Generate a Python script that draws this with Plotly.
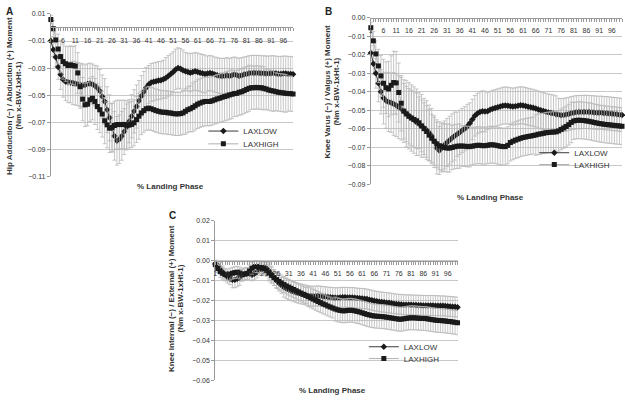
import plotly.graph_objects as go

# ---------------- data ----------------
PHASE = list(range(1, 101))          # % landing phase categories
SERIES = ["LAXLOW", "LAXHIGH"]

# Panel A: Hip adduction(-)/abduction(+) moment
A_LOW = [-0.0099, -0.0164, -0.0220, -0.0293, -0.0348, -0.0385, -0.0400, -0.0405, -0.0407, -0.0410,
         -0.0414, -0.0419, -0.0424, -0.0428, -0.0426, -0.0418, -0.0414, -0.0420, -0.0430, -0.0445,
         -0.0470, -0.0511, -0.0547, -0.0608, -0.0668, -0.0741, -0.0802, -0.0838, -0.0826, -0.0802,
         -0.0770, -0.0736, -0.0693, -0.0656, -0.0620, -0.0584, -0.0542, -0.0506, -0.0475, -0.0445,
         -0.0421, -0.0407, -0.0402, -0.0397, -0.0392, -0.0390, -0.0382, -0.0373, -0.0358, -0.0344,
         -0.0329, -0.0310, -0.0300, -0.0305, -0.0317, -0.0324, -0.0329, -0.0334, -0.0329, -0.0324,
         -0.0329, -0.0334, -0.0339, -0.0344, -0.0341, -0.0336, -0.0341, -0.0348, -0.0353, -0.0358,
         -0.0358, -0.0358, -0.0353, -0.0358, -0.0353, -0.0348, -0.0353, -0.0358, -0.0353, -0.0348,
         -0.0344, -0.0339, -0.0336, -0.0336, -0.0336, -0.0336, -0.0339, -0.0339, -0.0341, -0.0341,
         -0.0339, -0.0339, -0.0341, -0.0344, -0.0344, -0.0341, -0.0341, -0.0344, -0.0344, -0.0346]
A_LOW_SD = [0.003, 0.005, 0.007, 0.009, 0.011, 0.013, 0.014, 0.015, 0.015, 0.016,
            0.016, 0.016, 0.016, 0.016, 0.015, 0.015, 0.015, 0.015, 0.015, 0.016,
            0.016, 0.016, 0.017, 0.017, 0.017, 0.018, 0.018, 0.018, 0.018, 0.018,
            0.017, 0.017, 0.016, 0.016, 0.016, 0.016, 0.015, 0.015, 0.015, 0.015,
            0.014, 0.014, 0.014, 0.014, 0.014, 0.014, 0.014, 0.015, 0.015, 0.015,
            0.015, 0.015, 0.015, 0.015, 0.015, 0.014, 0.014, 0.014, 0.014, 0.014,
            0.014, 0.014, 0.014, 0.014, 0.013, 0.013, 0.013, 0.013, 0.013, 0.013,
            0.013, 0.013, 0.013, 0.013, 0.013, 0.013, 0.013, 0.013, 0.013, 0.013,
            0.013, 0.013, 0.013, 0.013, 0.013, 0.013, 0.013, 0.013, 0.013, 0.013,
            0.013, 0.013, 0.013, 0.013, 0.013, 0.013, 0.013, 0.013, 0.013, 0.013]
A_HIGH = [0.0059, -0.0009, -0.0092, -0.0159, -0.0215, -0.0252, -0.0268, -0.0281, -0.0276, -0.0281,
          -0.0285, -0.0336, -0.0438, -0.0530, -0.0572, -0.0567, -0.0535, -0.0523, -0.0547, -0.0584,
          -0.0608, -0.0640, -0.0690, -0.0720, -0.0745, -0.0740, -0.0725, -0.0718, -0.0718, -0.0718,
          -0.0717, -0.0722, -0.0722, -0.0717, -0.0705, -0.0681, -0.0656, -0.0632, -0.0615, -0.0601,
          -0.0596, -0.0601, -0.0608, -0.0615, -0.0620, -0.0625, -0.0627, -0.0627, -0.0632, -0.0632,
          -0.0637, -0.0639, -0.0639, -0.0637, -0.0632, -0.0620, -0.0608, -0.0601, -0.0591, -0.0579,
          -0.0567, -0.0559, -0.0552, -0.0547, -0.0547, -0.0547, -0.0542, -0.0535, -0.0528, -0.0523,
          -0.0516, -0.0511, -0.0506, -0.0499, -0.0494, -0.0489, -0.0487, -0.0479, -0.0475, -0.0467,
          -0.0458, -0.0450, -0.0445, -0.0445, -0.0443, -0.0445, -0.0445, -0.0450, -0.0455, -0.0462,
          -0.0467, -0.0470, -0.0475, -0.0479, -0.0482, -0.0484, -0.0487, -0.0489, -0.0489, -0.0492]
A_HIGH_SD = [0.003, 0.006, 0.009, 0.011, 0.012, 0.013, 0.013, 0.014, 0.014, 0.014,
             0.015, 0.015, 0.016, 0.016, 0.016, 0.016, 0.016, 0.016, 0.017, 0.017,
             0.017, 0.017, 0.017, 0.017, 0.018, 0.018, 0.018, 0.018, 0.018, 0.018,
             0.018, 0.018, 0.017, 0.017, 0.017, 0.017, 0.017, 0.016, 0.016, 0.016,
             0.016, 0.016, 0.016, 0.016, 0.016, 0.016, 0.016, 0.016, 0.016, 0.016,
             0.016, 0.016, 0.016, 0.016, 0.016, 0.017, 0.017, 0.017, 0.018, 0.018,
             0.018, 0.018, 0.018, 0.018, 0.018, 0.018, 0.018, 0.018, 0.018, 0.018,
             0.018, 0.018, 0.018, 0.018, 0.018, 0.017, 0.017, 0.017, 0.017, 0.017,
             0.017, 0.017, 0.016, 0.016, 0.016, 0.016, 0.016, 0.016, 0.015, 0.015,
             0.015, 0.015, 0.014, 0.014, 0.014, 0.014, 0.014, 0.013, 0.013, 0.013]

# Panel B: Knee varus(-)/valgus(+) moment
B_LOW = [-0.0190, -0.0248, -0.0300, -0.0354, -0.0400, -0.0434, -0.0448, -0.0455, -0.0460, -0.0466,
         -0.0473, -0.0484, -0.0492, -0.0505, -0.0518, -0.0530, -0.0542, -0.0553, -0.0565, -0.0575,
         -0.0585, -0.0596, -0.0608, -0.0622, -0.0640, -0.0670, -0.0705, -0.0718, -0.0705, -0.0688,
         -0.0675, -0.0662, -0.0650, -0.0640, -0.0630, -0.0620, -0.0610, -0.0600, -0.0588, -0.0570,
         -0.0550, -0.0530, -0.0518, -0.0510, -0.0505, -0.0507, -0.0505, -0.0498, -0.0492, -0.0488,
         -0.0484, -0.0480, -0.0476, -0.0474, -0.0475, -0.0478, -0.0480, -0.0478, -0.0475, -0.0473,
         -0.0474, -0.0477, -0.0481, -0.0484, -0.0487, -0.0491, -0.0496, -0.0500, -0.0504, -0.0508,
         -0.0512, -0.0515, -0.0518, -0.0522, -0.0525, -0.0527, -0.0526, -0.0523, -0.0520, -0.0516,
         -0.0513, -0.0511, -0.0510, -0.0510, -0.0509, -0.0509, -0.0510, -0.0511, -0.0512, -0.0513,
         -0.0514, -0.0514, -0.0516, -0.0516, -0.0518, -0.0519, -0.0521, -0.0522, -0.0524, -0.0526]
B_LOW_SD = [0.004, 0.006, 0.008, 0.010, 0.012, 0.014, 0.015, 0.016, 0.016, 0.017,
            0.017, 0.017, 0.017, 0.017, 0.018, 0.018, 0.018, 0.018, 0.018, 0.017,
            0.017, 0.016, 0.016, 0.015, 0.015, 0.014, 0.014, 0.013, 0.013, 0.013,
            0.013, 0.013, 0.013, 0.013, 0.012, 0.012, 0.012, 0.012, 0.012, 0.011,
            0.011, 0.011, 0.011, 0.011, 0.011, 0.011, 0.010, 0.010, 0.010, 0.010,
            0.010, 0.010, 0.010, 0.010, 0.010, 0.010, 0.010, 0.010, 0.010, 0.010,
            0.010, 0.010, 0.010, 0.010, 0.010, 0.010, 0.010, 0.010, 0.010, 0.010,
            0.010, 0.010, 0.010, 0.010, 0.009, 0.009, 0.009, 0.009, 0.009, 0.009,
            0.009, 0.009, 0.009, 0.009, 0.009, 0.009, 0.009, 0.009, 0.009, 0.009,
            0.009, 0.009, 0.009, 0.009, 0.009, 0.009, 0.009, 0.009, 0.009, 0.009]
B_HIGH = [-0.0053, -0.0124, -0.0195, -0.0260, -0.0314, -0.0354, -0.0378, -0.0385, -0.0365, -0.0350,
          -0.0352, -0.0404, -0.0462, -0.0505, -0.0520, -0.0533, -0.0542, -0.0550, -0.0557, -0.0568,
          -0.0585, -0.0600, -0.0615, -0.0635, -0.0652, -0.0668, -0.0682, -0.0692, -0.0698, -0.0702,
          -0.0705, -0.0705, -0.0702, -0.0698, -0.0695, -0.0694, -0.0694, -0.0695, -0.0697, -0.0697,
          -0.0695, -0.0692, -0.0690, -0.0690, -0.0692, -0.0692, -0.0690, -0.0687, -0.0687, -0.0689,
          -0.0692, -0.0695, -0.0697, -0.0697, -0.0690, -0.0675, -0.0668, -0.0662, -0.0657, -0.0652,
          -0.0648, -0.0645, -0.0642, -0.0640, -0.0637, -0.0634, -0.0630, -0.0628, -0.0625, -0.0622,
          -0.0620, -0.0619, -0.0618, -0.0617, -0.0612, -0.0604, -0.0596, -0.0588, -0.0578, -0.0566,
          -0.0558, -0.0555, -0.0554, -0.0555, -0.0556, -0.0558, -0.0560, -0.0563, -0.0566, -0.0569,
          -0.0572, -0.0574, -0.0576, -0.0578, -0.0579, -0.0581, -0.0582, -0.0584, -0.0585, -0.0587]
B_HIGH_SD = [0.003, 0.005, 0.007, 0.009, 0.011, 0.013, 0.014, 0.015, 0.016, 0.017,
             0.017, 0.016, 0.015, 0.015, 0.015, 0.015, 0.015, 0.015, 0.015, 0.014,
             0.014, 0.014, 0.014, 0.014, 0.013, 0.013, 0.013, 0.013, 0.013, 0.013,
             0.013, 0.013, 0.012, 0.012, 0.012, 0.012, 0.011, 0.011, 0.011, 0.011,
             0.010, 0.010, 0.010, 0.010, 0.010, 0.010, 0.010, 0.010, 0.010, 0.010,
             0.010, 0.010, 0.010, 0.010, 0.010, 0.010, 0.010, 0.010, 0.010, 0.010,
             0.010, 0.010, 0.010, 0.010, 0.010, 0.011, 0.011, 0.011, 0.011, 0.011,
             0.011, 0.011, 0.011, 0.011, 0.011, 0.011, 0.011, 0.011, 0.011, 0.011,
             0.010, 0.010, 0.010, 0.010, 0.010, 0.010, 0.010, 0.010, 0.010, 0.010,
             0.010, 0.010, 0.010, 0.010, 0.010, 0.010, 0.010, 0.010, 0.010, 0.010]

# Panel C: Knee internal(-)/external(+) moment
C_LOW = [-0.0017, -0.0025, -0.0041, -0.0057, -0.0071, -0.0083, -0.0091, -0.0096, -0.0096, -0.0091,
         -0.0084, -0.0074, -0.0066, -0.0065, -0.0067, -0.0071, -0.0066, -0.0057, -0.0045, -0.0036,
         -0.0033, -0.0040, -0.0052, -0.0068, -0.0085, -0.0100, -0.0113, -0.0124, -0.0133, -0.0140,
         -0.0146, -0.0151, -0.0156, -0.0160, -0.0164, -0.0167, -0.0170, -0.0173, -0.0176, -0.0178,
         -0.0179, -0.0178, -0.0177, -0.0178, -0.0180, -0.0181, -0.0183, -0.0184, -0.0185, -0.0186,
         -0.0186, -0.0185, -0.0184, -0.0184, -0.0185, -0.0185, -0.0185, -0.0186, -0.0188, -0.0189,
         -0.0190, -0.0191, -0.0193, -0.0196, -0.0199, -0.0202, -0.0204, -0.0206, -0.0208, -0.0209,
         -0.0211, -0.0212, -0.0214, -0.0216, -0.0218, -0.0219, -0.0220, -0.0221, -0.0222, -0.0222,
         -0.0222, -0.0223, -0.0223, -0.0224, -0.0224, -0.0225, -0.0225, -0.0225, -0.0225, -0.0225,
         -0.0226, -0.0226, -0.0227, -0.0227, -0.0228, -0.0229, -0.0230, -0.0231, -0.0232, -0.0234]
C_LOW_SD = [0.002, 0.002, 0.003, 0.003, 0.003, 0.003, 0.003, 0.004, 0.004, 0.004,
            0.004, 0.003, 0.003, 0.003, 0.003, 0.003, 0.003, 0.003, 0.003, 0.003,
            0.003, 0.003, 0.004, 0.004, 0.004, 0.004, 0.004, 0.004, 0.005, 0.005,
            0.005, 0.005, 0.005, 0.005, 0.005, 0.005, 0.005, 0.005, 0.005, 0.005,
            0.005, 0.005, 0.005, 0.005, 0.005, 0.005, 0.005, 0.005, 0.005, 0.005,
            0.005, 0.005, 0.005, 0.005, 0.005, 0.005, 0.005, 0.005, 0.005, 0.005,
            0.005, 0.005, 0.005, 0.005, 0.005, 0.005, 0.005, 0.005, 0.005, 0.005,
            0.005, 0.005, 0.005, 0.005, 0.005, 0.005, 0.005, 0.005, 0.005, 0.005,
            0.005, 0.005, 0.005, 0.005, 0.005, 0.005, 0.005, 0.005, 0.005, 0.005,
            0.005, 0.005, 0.005, 0.005, 0.005, 0.005, 0.005, 0.005, 0.005, 0.005]
C_HIGH = [-0.0020, -0.0040, -0.0055, -0.0064, -0.0070, -0.0072, -0.0068, -0.0063, -0.0060, -0.0058,
          -0.0062, -0.0068, -0.0068, -0.0064, -0.0052, -0.0038, -0.0030, -0.0030, -0.0033, -0.0036,
          -0.0040, -0.0050, -0.0062, -0.0074, -0.0085, -0.0095, -0.0104, -0.0112, -0.0120, -0.0127,
          -0.0133, -0.0139, -0.0145, -0.0151, -0.0157, -0.0163, -0.0169, -0.0175, -0.0181, -0.0187,
          -0.0193, -0.0199, -0.0205, -0.0211, -0.0217, -0.0222, -0.0228, -0.0233, -0.0238, -0.0243,
          -0.0247, -0.0250, -0.0252, -0.0252, -0.0250, -0.0249, -0.0250, -0.0252, -0.0255, -0.0258,
          -0.0262, -0.0266, -0.0270, -0.0273, -0.0276, -0.0278, -0.0279, -0.0280, -0.0281, -0.0282,
          -0.0284, -0.0286, -0.0288, -0.0290, -0.0292, -0.0294, -0.0294, -0.0292, -0.0290, -0.0288,
          -0.0287, -0.0287, -0.0288, -0.0289, -0.0290, -0.0290, -0.0291, -0.0293, -0.0295, -0.0297,
          -0.0299, -0.0300, -0.0301, -0.0302, -0.0303, -0.0305, -0.0306, -0.0308, -0.0310, -0.0312]
C_HIGH_SD = [0.002, 0.002, 0.003, 0.003, 0.003, 0.003, 0.003, 0.003, 0.003, 0.003,
             0.003, 0.003, 0.003, 0.003, 0.003, 0.003, 0.003, 0.003, 0.003, 0.003,
             0.003, 0.003, 0.004, 0.004, 0.004, 0.004, 0.004, 0.004, 0.004, 0.004,
             0.004, 0.004, 0.004, 0.004, 0.004, 0.004, 0.004, 0.004, 0.005, 0.005,
             0.005, 0.005, 0.005, 0.005, 0.005, 0.005, 0.005, 0.005, 0.005, 0.006,
             0.006, 0.006, 0.006, 0.006, 0.006, 0.006, 0.006, 0.006, 0.006, 0.006,
             0.006, 0.006, 0.006, 0.006, 0.006, 0.006, 0.006, 0.006, 0.006, 0.006,
             0.006, 0.006, 0.006, 0.006, 0.006, 0.006, 0.006, 0.006, 0.006, 0.006,
             0.006, 0.006, 0.006, 0.006, 0.006, 0.006, 0.006, 0.006, 0.006, 0.006,
             0.006, 0.006, 0.006, 0.006, 0.006, 0.006, 0.006, 0.006, 0.006, 0.006]

Y_TITLES = [["Hip Adduction (\u2212) / Abduction (+) Moment", "(Nm x-BW-1xHt-1)"],
            ["Knee Varus (\u2212) / Valgus (+) Moment", "(Nm x-BW-1xHt-1)"],
            ["Knee Internal (\u2212) / External (+) Moment", "(Nm x-BW-1xHt-1)"]]
X_TITLE = "% Landing Phase"
PANEL_LABELS = ["A", "B", "C"]

# ---------------- figure ----------------
W, H = 625, 400
FONT = "Liberation Sans, Arial, sans-serif"
TXT = "#333333"
GRID = "#c8c8c8"
AXL = "#9a9a9a"
ERR = "#b8b8b8"

def px(x):
    return x / W

def py(y):
    return 1 - y / H

panels = [
    dict(x0=49, x1=292, yt=11, yb=176, yr=[-0.11, 0.01], t0=0.01, dt=0.02,
         low=A_LOW, low_sd=A_LOW_SD, high=A_HIGH, high_sd=A_HIGH_SD,
         leg=(202, 130, 143), lab=(2, 1), xt=(169, 186), yt1=(7.5, 94), yt2=(17, 94)),
    dict(x0=370, x1=622, yt=15, yb=184, yr=[-0.09, 0.0], t0=0.0, dt=0.01,
         low=B_LOW, low_sd=B_LOW_SD, high=B_HIGH, high_sd=B_HIGH_SD,
         leg=(534, 152, 164), lab=(322, 1), xt=(490, 197), yt1=(327, 90), yt2=(336, 90)),
    dict(x0=214, x1=457, yt=221, yb=383, yr=[-0.06, 0.02], t0=0.02, dt=0.01,
         low=C_LOW, low_sd=C_LOW_SD, high=C_HIGH, high_sd=C_HIGH_SD,
         leg=(363, 349, 361), lab=(166, 208), xt=(332, 393), yt1=(170, 300), yt2=(179.5, 300)),
]

fig = go.Figure()
annotations = []
shapes = []
layout = {}

for i, p in enumerate(panels):
    n = "" if i == 0 else str(i + 1)
    xa, ya = "x" + n, "y" + n
    series = [
        (SERIES[0], p["low"], p["low_sd"], "diamond", 5, "#3a3a3a", p["leg"][1]),
        (SERIES[1], p["high"], p["high_sd"], "square", 5, "#b0b0b0", p["leg"][2]),
    ]
    for k, (name, vals, sd, sym, msize, lcol, ly) in enumerate(series):
        li = 2 * i + k + 1
        legname = "legend" if li == 1 else "legend%d" % li
        fig.add_trace(go.Scatter(
            x=PHASE, y=vals, name=name, mode="lines+markers", showlegend=True,
            xaxis=xa, yaxis=ya, legend=legname, cliponaxis=False,
            line=dict(color=lcol, width=1),
            marker=dict(symbol=sym, size=msize, color="#1a1a1a", line=dict(width=0)),
            error_y=dict(type="data", array=sd, visible=True, color=ERR,
                         thickness=0.8, width=2),
        ))
        layout[legname] = dict(
            x=px(p["leg"][0]), y=py(ly), xanchor="left", yanchor="middle",
            bgcolor="rgba(0,0,0,0)", borderwidth=0, visible=True,
            font=dict(family=FONT, size=8, color=TXT), itemwidth=30,
        )
    y0, y1 = p["yr"]
    zero_px = p["yt"] + (y1 - 0) / (y1 - y0) * (p["yb"] - p["yt"])
    layout["xaxis" + n] = dict(
        domain=[px(p["x0"]), px(p["x1"])], range=[1, 100],
        anchor="free", position=py(zero_px),
        tickmode="linear", tick0=1, dtick=5,
        ticks="outside", ticklen=3, tickcolor=AXL, ticklabelstandoff=3,
        minor=dict(dtick=1, tick0=1, ticks="outside", ticklen=3, tickcolor=AXL, showgrid=False),
        showline=True, linecolor=AXL, linewidth=1, showgrid=False, zeroline=False,
        tickfont=dict(family=FONT, size=7, color=TXT),
    )
    span = y1 - y0
    layout["yaxis" + n] = dict(
        domain=[py(p["yb"]), py(p["yt"])], range=[y0 - span * 0.001, y1 + span * 0.001],
        anchor=xa, tickmode="linear", tick0=p["t0"], dtick=p["dt"], tickformat=".2f",
        ticks="outside", ticklen=3, tickcolor=AXL,
        showline=True, linecolor=AXL, linewidth=1,
        showgrid=True, gridcolor=GRID, gridwidth=1, zeroline=False,
        tickfont=dict(family=FONT, size=7, color=TXT),
    )
    annotations.append(dict(text="<b>%s</b>" % PANEL_LABELS[i], x=px(p["lab"][0]), y=py(p["lab"][1]),
                            xref="paper", yref="paper", xanchor="left", yanchor="top",
                            showarrow=False, font=dict(family=FONT, size=10, color="#222")))
    annotations.append(dict(text="<b>%s</b>" % X_TITLE, x=px(p["xt"][0]), y=py(p["xt"][1]),
                            xref="paper", yref="paper", xanchor="center", yanchor="middle",
                            showarrow=False, font=dict(family=FONT, size=8, color=TXT)))
    for (tx, ty), t in [(p["yt1"], Y_TITLES[i][0]), (p["yt2"], Y_TITLES[i][1])]:
        annotations.append(dict(text="<b>%s</b>" % t, x=px(tx), y=py(ty), textangle=-90,
                                xref="paper", yref="paper", xanchor="center", yanchor="middle",
                                showarrow=False, font=dict(family=FONT, size=8, color=TXT)))

# white patch behind the panel C legend (hides the gridline there, as in the original)
shapes.append(dict(type="rect", xref="paper", yref="paper", layer="between",
                   x0=px(380), x1=px(441), y0=py(368), y1=py(342),
                   fillcolor="white", line=dict(width=0)))

fig.update_layout(
    width=W, height=H, margin=dict(l=0, r=0, t=0, b=0),
    paper_bgcolor="white", plot_bgcolor="white", showlegend=True,
    annotations=annotations, shapes=shapes, **layout,
)

fig.write_html(
    "out.html",
    config={"displayModeBar": False},
    post_script="document.body.style.margin='0';document.body.style.overflow='hidden';",
)
